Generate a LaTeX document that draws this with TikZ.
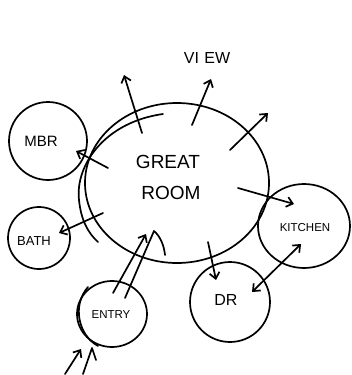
\documentclass[tikz,border=0pt]{standalone}
\usepackage{fontspec}
\setmainfont{Liberation Sans}
\usetikzlibrary{arrows.meta,shapes.geometric}
\begin{document}
\begin{tikzpicture}[x=1pt,y=-1pt,
  ink/.style={line width=1.7pt, line cap=round, line join=round},
  room/.style={ink, draw, circle, inner sep=0pt},
  arr/.style={ink, -{Straight Barb[length=6pt,width=10pt,line width=1.7pt]}},
  darr/.style={ink, {Straight Barb[length=6pt,width=10pt,line width=1.7pt]}-{Straight Barb[length=6pt,width=10pt,line width=1.7pt]}},
  lbl/.style={font=\fontsize{13}{13}\selectfont}]
\useasboundingbox (0,0) rectangle (352,375);
% rooms
\node[ink, draw, ellipse, minimum width=184pt, minimum height=160pt] (great) at (177,183) {};
\draw[ink] (163,114) .. controls (105,122) and (75,165) .. (79,200) .. controls (81,220) and (88,233) .. (98,242);
\node[room, minimum size=78pt] (mbr) at (48,141) {};
\node[room, minimum size=62pt] (bath) at (39,238) {};
\node[ink, draw, ellipse, minimum width=92pt, minimum height=84pt] (kitchen) at (304,226) {};
\node[room, minimum size=80pt] (dr) at (230,302) {};
\node[ink, draw, ellipse, minimum width=70pt, minimum height=66pt] (entry) at (112,314) {};
\draw[ink] (88,287) .. controls (72,305) and (78,335) .. (98,346);
% labels
\node[font=\fontsize{19}{19}\selectfont] (tgreat) at (168,162) {GREAT};
\node[font=\fontsize{19}{19}\selectfont] (troom) at (171,193) {ROOM};
\node[lbl, font=\fontsize{15}{15}\selectfont] (tmbr) at (41,141) {MBR};
\node[lbl] (tbath) at (34,241) {BATH};
\node[lbl, font=\fontsize{11.5}{11.5}\selectfont] (tkit) at (305,228) {KITCHEN};
\node[lbl, font=\fontsize{16}{16}\selectfont] (tdr) at (226,300) {DR};
\node[lbl, font=\fontsize{11.5}{11.5}\selectfont] (tentry) at (111,315) {ENTRY};
\node[font=\fontsize{16}{16}\selectfont] (tview) at (207,58) {VI\,\,EW};
% connectors
\coordinate (v1s) at (142,133); \coordinate (v1e) at (124,75);
\coordinate (v2s) at (192,125); \coordinate (v2e) at (211,79);
\coordinate (v3s) at (230,150); \coordinate (v3e) at (268,113);
\draw[arr] (v1s) -- (v1e);
\draw[arr] (v2s) -- (v2e);
\draw[arr] (v3s) -- (v3e);
\coordinate (m1) at (108,168); \coordinate (m2) at (76,151);
\draw[arr] (m1) -- (m2);
\coordinate (k1) at (238,188); \coordinate (k2) at (294,204);
\draw[arr] (k1) -- (k2);
\coordinate (b1) at (103,213); \coordinate (b2) at (59,233);
\draw[arr] (b1) -- (b2);
\coordinate (d1) at (208,242); \coordinate (d2) at (216,280);
\draw[arr] (d1) -- (d2);
\coordinate (kd1) at (301,244); \coordinate (kd2) at (252,292);
\draw[darr] (kd1) -- (kd2);
\coordinate (e1) at (113,293); \coordinate (e2) at (146,234);
\coordinate (e3) at (125,298); \coordinate (e4) at (154,231);
\draw[arr] (e1) -- (e2);
\draw[ink] (e3) -- (e4) .. controls (160,236) and (164,245) .. (165,255);
\coordinate (f1) at (65,374); \coordinate (f2) at (81,349);
\coordinate (f3) at (83,374); \coordinate (f4) at (92,348);
\draw[arr] (f1) -- (f2);
\draw[ink] (f3) -- (f4) -- (96,360);
\end{tikzpicture}
\end{document}
